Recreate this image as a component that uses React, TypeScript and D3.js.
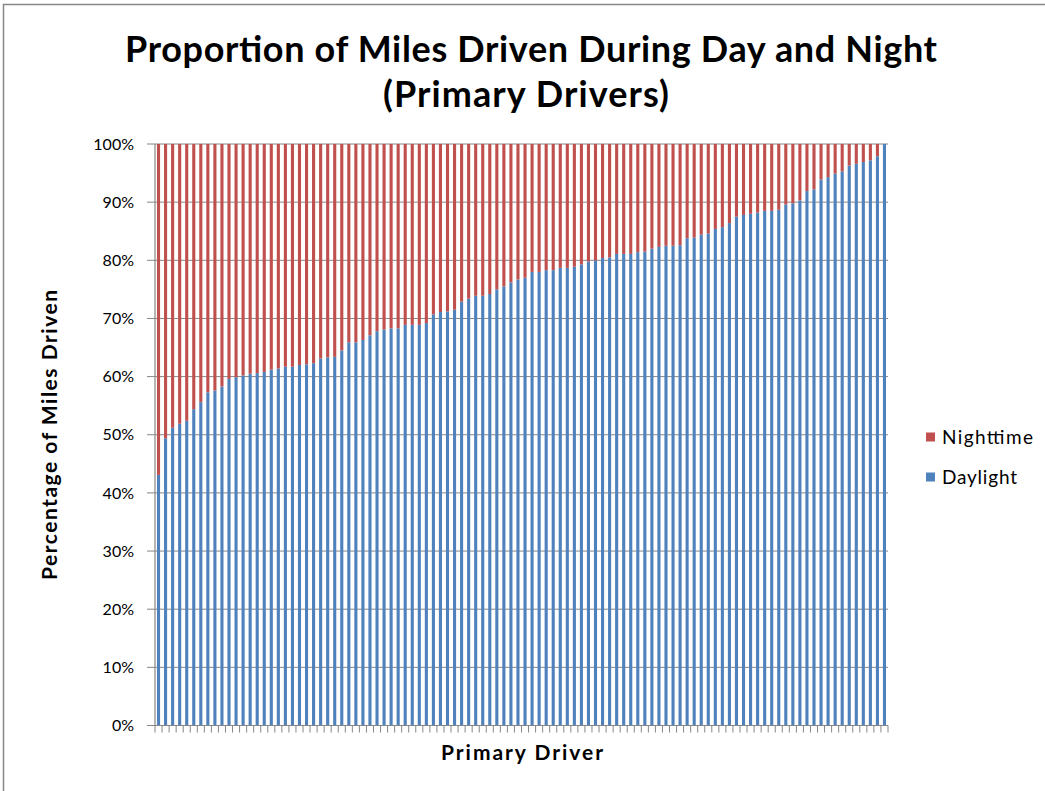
import React from "react";
import * as d3 from "d3";

const title1 = "Proportion of Miles Driven During Day and Night";
const title2 = "(Primary Drivers)";
const xTitle = "Primary Driver";
const yTitle = "Percentage of Miles Driven";
const seriesNames = ["Nighttime", "Daylight"];
const yTicks = [0, 0.1, 0.2, 0.3, 0.4, 0.5, 0.6, 0.7, 0.8, 0.9, 1.0];

const daylight = [
  43.1, 49.4, 51.2, 51.9, 52.4, 54.4, 55.6, 57.3, 57.6, 58.3,
  59.6, 59.9, 60.2, 60.5, 60.6, 60.8, 61.2, 61.4, 61.7, 61.7,
  62.0, 62.1, 62.3, 63.1, 63.3, 63.4, 64.5, 65.9, 65.9, 66.3,
  67.1, 67.8, 68.1, 68.3, 68.3, 68.9, 68.9, 68.9, 69.2, 70.7,
  71.1, 71.2, 71.5, 72.9, 73.4, 73.9, 73.9, 74.2, 75.0, 75.5,
  76.2, 76.7, 77.0, 78.0, 78.0, 78.3, 78.3, 78.7, 78.7, 78.9,
  79.3, 79.8, 80.0, 80.4, 80.5, 81.1, 81.1, 81.1, 81.4, 81.5,
  82.0, 82.3, 82.5, 82.5, 82.6, 83.8, 83.9, 84.4, 84.6, 85.4,
  85.7, 86.4, 87.5, 87.8, 88.0, 88.2, 88.5, 88.5, 88.7, 89.6,
  89.8, 90.3, 91.9, 92.2, 93.9, 94.3, 94.9, 95.3, 96.3, 96.6,
  96.9, 97.2, 97.9, 100.0,
];

const nighttime = [
  56.9, 50.6, 48.8, 48.1, 47.6, 45.6, 44.4, 42.7, 42.4, 41.7,
  40.4, 40.1, 39.8, 39.5, 39.4, 39.2, 38.8, 38.6, 38.3, 38.3,
  38.0, 37.9, 37.7, 36.9, 36.7, 36.6, 35.5, 34.1, 34.1, 33.7,
  32.9, 32.2, 31.9, 31.7, 31.7, 31.1, 31.1, 31.1, 30.8, 29.3,
  28.9, 28.8, 28.5, 27.1, 26.6, 26.1, 26.1, 25.8, 25.0, 24.5,
  23.8, 23.3, 23.0, 22.0, 22.0, 21.7, 21.7, 21.3, 21.3, 21.1,
  20.7, 20.2, 20.0, 19.6, 19.5, 18.9, 18.9, 18.9, 18.6, 18.5,
  18.0, 17.7, 17.5, 17.5, 17.4, 16.2, 16.1, 15.6, 15.4, 14.6,
  14.3, 13.6, 12.5, 12.2, 12.0, 11.8, 11.5, 11.5, 11.3, 10.4,
  10.2, 9.7, 8.1, 7.8, 6.1, 5.7, 5.1, 4.7, 3.7, 3.4,
  3.1, 2.8, 2.1, 0.0,
];

const drivers = daylight.map((_, i) => `Driver ${i + 1}`);

const W = 1045;
const H = 791;
const M = { left: 155, right: 888, top: 144, bottom: 725.5 };
const FONT = "Lato, 'Open Sans', sans-serif";
const RED = "#C0504D";
const BLUE = "#4F81BD";

export default function App() {
  const rows = drivers.map((d, i) => ({ driver: d, Daylight: daylight[i], Nighttime: nighttime[i] }));
  const stack = d3
    .stack<any>()
    .keys(["Daylight", "Nighttime"])
    .offset(d3.stackOffsetExpand);
  const layers = stack(rows);

  const x = d3.scaleBand<string>().domain(drivers).range([M.left, M.right]).paddingInner(0.56).paddingOuter(0.28);
  const y = d3.scaleLinear().domain([0, 1]).range([M.bottom, M.top]);
  const colors: Record<string, string> = { Daylight: BLUE, Nighttime: RED };
  const step = x.step();
  const bounds = d3.range(drivers.length + 1).map((i) => M.left + i * step);
  const legendLen = [91, 75];

  return (
    <svg
      width={W}
      height={H}
      style={{ position: "absolute", left: 0, top: 0, background: "#fff" }}
      fontFamily={FONT}
    >
      <rect x={3.5} y={4.5} width={W + 10} height={H + 10} fill="#fff" stroke="#878787" strokeWidth={1.5} />
      <text x={531} y={62} textAnchor="middle" fontSize={36} fontWeight="bold" fill="#000"
        textLength={812} lengthAdjust="spacing">
        {title1}
      </text>
      <text x={526} y={107} textAnchor="middle" fontSize={36} fontWeight="bold" fill="#000"
        textLength={286} lengthAdjust="spacing">
        {title2}
      </text>

      {yTicks.map((t) => (
        <g key={t}>
          <line x1={M.left - 8} x2={M.right} y1={y(t)} y2={y(t)} stroke="#868686" strokeWidth={1} />
          <text x={134} y={y(t)} dy="0.35em" textAnchor="end" fontSize={16} fill="#000">
            {d3.format(".0%")(t)}
          </text>
        </g>
      ))}

      {layers.map((layer) => (
        <g key={layer.key} fill={colors[layer.key]}>
          {layer.map((d, i) => (
            <rect
              key={i}
              x={x(drivers[i])!}
              width={x.bandwidth()}
              y={y(d[1])}
              height={Math.max(0, y(d[0]) - y(d[1]))}
            />
          ))}
        </g>
      ))}

      <line x1={M.left} x2={M.left} y1={M.top} y2={M.bottom} stroke="#868686" strokeWidth={1.2} />
      <line x1={M.left} x2={M.right} y1={M.bottom} y2={M.bottom} stroke="#868686" strokeWidth={1.2} />
      {bounds.map((b, i) => (
        <line key={i} x1={b} x2={b} y1={M.bottom} y2={M.bottom + 7} stroke="#868686" strokeWidth={1} />
      ))}

      <text x={522} y={760} textAnchor="middle" fontSize={21} fontWeight="bold" fill="#000"
        textLength={162} lengthAdjust="spacing">
        {xTitle}
      </text>
      <text
        transform={`translate(57, 435) rotate(-90)`}
        textAnchor="middle"
        fontSize={21}
        fontWeight="bold"
        fill="#000"
        textLength={290}
        lengthAdjust="spacing"
      >
        {yTitle}
      </text>

      {seriesNames.map((s, i) => (
        <g key={s} transform={`translate(926, ${437 + i * 40})`}>
          <rect x={0} y={-4.5} width={9} height={9} fill={colors[s]} />
          <text x={16} y={0} dy="0.35em" fontSize={19} fill="#000" textLength={legendLen[i]} lengthAdjust="spacing">
            {s}
          </text>
        </g>
      ))}
    </svg>
  );
}
